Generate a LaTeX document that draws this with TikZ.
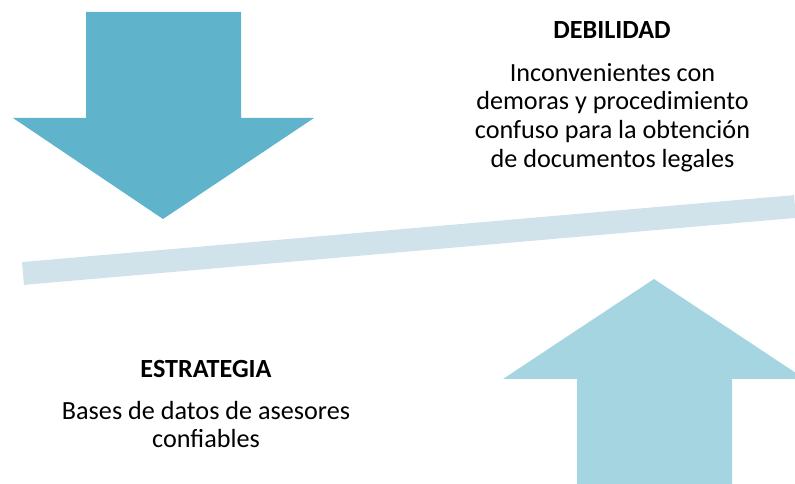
\documentclass[tikz,border=0pt]{standalone}
\usepackage{fontspec}
\setmainfont{Carlito}
\usepackage{xcolor}
\usepackage{tikz}
\definecolor{mydarkblue}{HTML}{5FB3CB}
\definecolor{mylightblue}{HTML}{A6D5E2}
\definecolor{mybar}{HTML}{D0E3EB}
\tikzset{
    heading/.style={font=\fontsize{14.9}{17}\selectfont\bfseries, align=center, inner sep=0pt},
    bodytext/.style={font=\fontsize{14.9}{16.4}\selectfont, align=center, inner sep=0pt}
}

\begin{document}
\begin{tikzpicture}[scale=1]
    % basics
    \useasboundingbox (0,0) rectangle (15.9,9.68);
    \clip (0,0) rectangle (15.9,9.68);

    % arrows
    \fill[mydarkblue] (1.72,9.44) -- (4.82,9.44) -- (4.82,7.32) -- (6.28,7.32) -- (3.26,5.30) -- (0.26,7.32) -- (1.72,7.32) -- cycle;
    \fill[mylightblue] (11.54,0) -- (14.64,0) -- (14.64,2.10) -- (16.10,2.10) -- (13.08,4.10) -- (10.06,2.10) -- (11.54,2.10) -- cycle;

    % balance bar
    \coordinate (barleft) at (0.46,4.21);
    \coordinate (barright) at (15.90,5.55);
    \draw[mybar, line width=0.458cm] (barleft) -- (barright);

    % texts
    \node[heading] (debilidad) at (12.24,9.08) {DEBILIDAD};
    \node[bodytext] (debilidadtext) at (12.25,7.33) {Inconvenientes con\\demoras y procedimiento\\confuso para la obtención\\de documentos legales};
    \node[heading] (estrategia) at (4.12,2.30) {ESTRATEGIA};
    \node[bodytext] (estrategiatext) at (4.12,1.19) {Bases de datos de asesores\\confiables};
\end{tikzpicture}
\end{document}
